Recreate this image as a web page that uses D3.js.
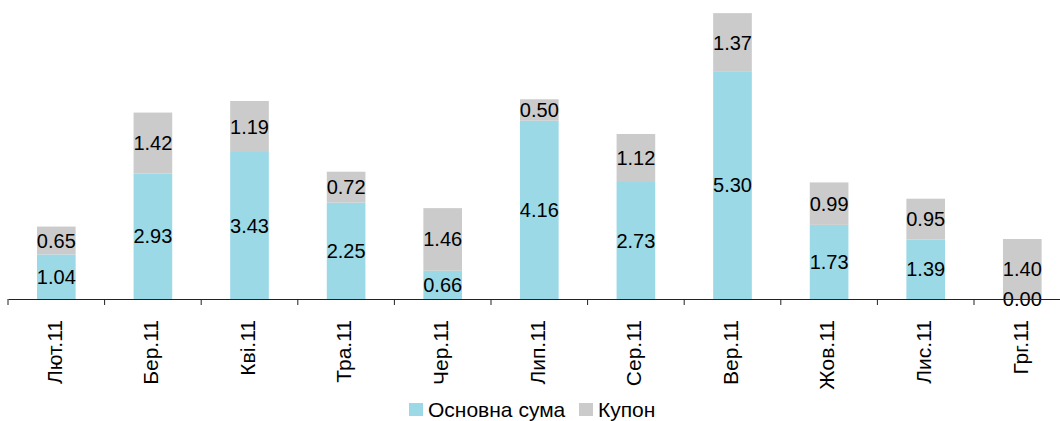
<!DOCTYPE html>
<html>
<head>
<meta charset="utf-8">
<script src="https://cdn.jsdelivr.net/npm/d3@7"></script>
<style>
  body { margin: 0; background: #fff; }
  text { font-family: "Liberation Sans", Arial, sans-serif; fill: #000; }
</style>
</head>
<body>
<svg id="chart" width="1060" height="421"></svg>
<script>
// chart data
const months = ["Лют.11", "Бер.11", "Кві.11", "Тра.11", "Чер.11", "Лип.11", "Сер.11", "Вер.11", "Жов.11", "Лис.11", "Грг.11"];
const principal = [1.04, 2.93, 3.43, 2.25, 0.66, 4.16, 2.73, 5.30, 1.73, 1.39, 0.00];
const coupon = [0.65, 1.42, 1.19, 0.72, 1.46, 0.50, 1.12, 1.37, 0.99, 0.95, 1.40];
const seriesNames = ["Основна сума", "Купон"];
const colors = ["#9bd9e7", "#cbcbcb"];

const svg = d3.select("#chart");
const axisY = 299;

const x = d3.scaleBand().domain(months).range([8, 8 + 11 * 96.6]).padding(0);
const y = d3.scaleLinear().domain([0, 7]).range([axisY, -1]);
const barW = x.bandwidth() * 0.4;

const rows = months.map((m, i) => ({ m, p: principal[i], c: coupon[i] }));

const g = svg.append("g");

rows.forEach(d => {
    const cx = x(d.m) + x.bandwidth() / 2;
    // principal segment
    g.append("rect").attr("x", cx - barW / 2).attr("width", barW)
        .attr("y", y(d.p)).attr("height", y(0) - y(d.p)).attr("fill", colors[0]);
    // coupon segment
    g.append("rect").attr("x", cx - barW / 2).attr("width", barW)
        .attr("y", y(d.p + d.c)).attr("height", y(d.p) - y(d.p + d.c)).attr("fill", colors[1]);
});

// axis
const axis = d3.axisBottom(x).tickSize(6).tickFormat("").tickSizeOuter(0);
const axG = svg.append("g").attr("transform", `translate(0,${axisY})`).call(axis);
axG.select(".domain").attr("stroke", "#222");
// ticks at band boundaries instead of centres
axG.selectAll(".tick").remove();
months.forEach(m => {
    axG.append("line").attr("x1", x(m)).attr("x2", x(m)).attr("y1", 0).attr("y2", 6).attr("stroke", "#222");
});

// value labels
rows.forEach(d => {
    const cx = x(d.m) + x.bandwidth() / 2;
    g.append("text").attr("x", cx).attr("y", (y(0) + y(d.p)) / 2).attr("dy", "0.35em")
        .attr("text-anchor", "middle").style("font-size", "20px").text(d.p.toFixed(2));
    g.append("text").attr("x", cx).attr("y", (y(d.p) + y(d.p + d.c)) / 2).attr("dy", "0.35em")
        .attr("text-anchor", "middle").style("font-size", "20px").text(d.c.toFixed(2));
});

// category labels
months.forEach(m => {
    const cx = x(m) + x.bandwidth() / 2 - 2;
    svg.append("text").attr("transform", `translate(${cx},320) rotate(-90)`)
        .attr("dy", "0.35em").attr("text-anchor", "end").style("font-size", "21px").text(m);
});

// legend
const legend = svg.append("g");
const legendX = [409, 579];
seriesNames.forEach((n, i) => {
    legend.append("rect").attr("x", legendX[i]).attr("y", 403).attr("width", 14).attr("height", 13).attr("fill", colors[i]);
    legend.append("text").attr("x", legendX[i] + 19).attr("y", 417).style("font-size", "21px").text(n);
});
</script>
</body>
</html>
